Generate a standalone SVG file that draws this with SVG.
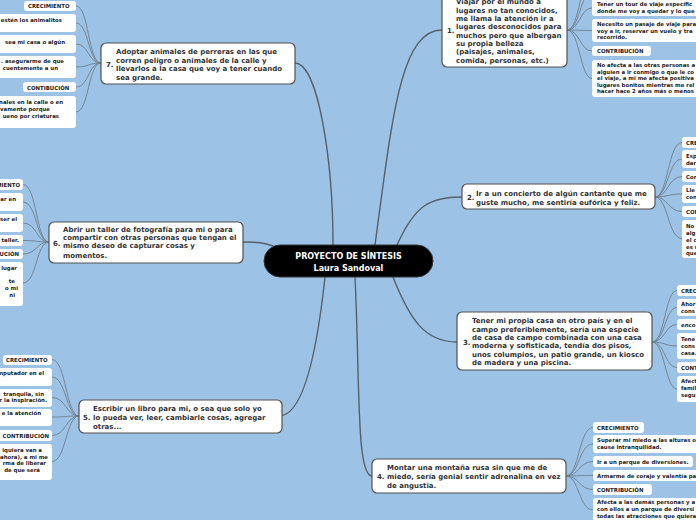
<svg xmlns="http://www.w3.org/2000/svg" width="696" height="520" viewBox="0 0 696 520">
<style>
.bg{fill:#9cc3e6}
.topic{fill:#fff;stroke:#505050;stroke-width:1.2}
.leaf{fill:#fff}
.tt{font-family:"DejaVu Sans",Verdana,sans-serif;font-weight:bold;font-size:7px;fill:#333}
.lt{font-family:"DejaVu Sans",Verdana,sans-serif;font-weight:bold;font-size:5.4px;fill:#222}
.end{text-anchor:end}
.main{fill:none;stroke:#56606a;stroke-width:1.4}
.sub{fill:none;stroke:#6f7f8f;stroke-width:0.9}
.ct{font-family:"DejaVu Sans",Verdana,sans-serif;font-weight:bold;font-size:8px;fill:#fff;text-anchor:middle}
</style>
<rect class="bg" x="0" y="0" width="696" height="520"/>
<g id="connectors">
<path class="main" d="M333,245 C333,160 318,63 295,63"/>
<path class="main" d="M375,245 C392,120 400,30 442,30"/>
<path class="main" d="M397,245 C415,205 430,197 462,197"/>
<path class="main" d="M393,277 C410,320 425,342 457,342"/>
<path class="main" d="M355,277 C360,380 356,476 372,476"/>
<path class="main" d="M325,277 C315,370 300,416 279,416"/>
<path class="main" d="M273,246 C262,242 255,242 243,242"/>
<path class="sub" d="M101,63 C88,63 89,6 76,6"/>
<path class="sub" d="M101,63 C88,63 89,23 76,23"/>
<path class="sub" d="M101,63 C88,63 89,44 76,44"/>
<path class="sub" d="M101,63 C88,63 89,67 76,67"/>
<path class="sub" d="M101,63 C88,63 89,87 76,87"/>
<path class="sub" d="M101,63 C88,63 89,112 76,112"/>
<path class="sub" d="M49,242 C36,242 37,184.5 23,184.5"/>
<path class="sub" d="M49,242 C36,242 37,202 23,202"/>
<path class="sub" d="M49,242 C36,242 37,223 23,223"/>
<path class="sub" d="M49,242 C36,242 37,240.5 23,240.5"/>
<path class="sub" d="M49,242 C36,242 37,254 23,254"/>
<path class="sub" d="M49,242 C36,242 37,283 23,283"/>
<path class="sub" d="M79,416 C66,416 66,359.5 52,359.5"/>
<path class="sub" d="M79,416 C66,416 66,377 52,377"/>
<path class="sub" d="M79,416 C66,416 66,397.5 52,397.5"/>
<path class="sub" d="M79,416 C66,416 66,417 52,417"/>
<path class="sub" d="M79,416 C66,416 66,435.5 52,435.5"/>
<path class="sub" d="M79,416 C66,416 66,461.5 52,461.5"/>
<path class="sub" d="M567,30 C580,30 580,-25 592,-25"/>
<path class="sub" d="M567,30 C580,30 580,-8 592,-8"/>
<path class="sub" d="M567,30 C580,30 580,8 592,8"/>
<path class="sub" d="M567,30 C580,30 580,30.5 592,30.5"/>
<path class="sub" d="M567,30 C580,30 580,51 592,51"/>
<path class="sub" d="M567,30 C580,30 580,78.5 592,78.5"/>
<path class="sub" d="M655,197 C668,197 668,142.5 682,142.5"/>
<path class="sub" d="M655,197 C668,197 668,159 682,159"/>
<path class="sub" d="M655,197 C668,197 668,176.5 682,176.5"/>
<path class="sub" d="M655,197 C668,197 668,194 682,194"/>
<path class="sub" d="M655,197 C668,197 668,211.5 682,211.5"/>
<path class="sub" d="M655,197 C668,197 668,238.5 682,238.5"/>
<path class="sub" d="M652,342 C665,342 665,290.5 677,290.5"/>
<path class="sub" d="M652,342 C665,342 665,307.5 677,307.5"/>
<path class="sub" d="M652,342 C665,342 665,324.5 677,324.5"/>
<path class="sub" d="M652,342 C665,342 665,346 677,346"/>
<path class="sub" d="M652,342 C665,342 665,367.5 677,367.5"/>
<path class="sub" d="M652,342 C665,342 665,389 677,389"/>
<path class="sub" d="M566,476 C579,476 579,427.5 593,427.5"/>
<path class="sub" d="M566,476 C579,476 579,444 593,444"/>
<path class="sub" d="M566,476 C579,476 579,461.5 593,461.5"/>
<path class="sub" d="M566,476 C579,476 579,475.5 593,475.5"/>
<path class="sub" d="M566,476 C579,476 579,489.5 593,489.5"/>
<path class="sub" d="M566,476 C579,476 579,510 593,510"/>
</g>
<g id="center">
<rect x="264" y="245" width="169" height="32" rx="16" fill="#000" stroke="#333" stroke-width="1"/>
<text class="ct" x="348.5" y="259">PROYECTO DE SÍNTESIS</text>
<text class="ct" x="348.5" y="270.5">Laura Sandoval</text>
</g>
<g id="node1">
<rect class="topic" x="442" y="-8" width="125" height="75" rx="5"/>
<text class="tt" x="447" y="32.5">1.</text>
<text class="tt" x="456" y="4">Viajar por el mundo a</text>
<text class="tt" x="456" y="12.5">lugares no tan conocidos,</text>
<text class="tt" x="456" y="21">me llama la atención ir a</text>
<text class="tt" x="456" y="29">lugares desconocidos para</text>
<text class="tt" x="456" y="37.5">muchos pero que albergan</text>
<text class="tt" x="456" y="46">su propia belleza</text>
<text class="tt" x="456" y="54">(paisajes, animales,</text>
<text class="tt" x="456" y="62.5">comida, personas, etc.)</text>
</g>
<g id="node1-leaves">
<rect class="leaf" x="592" y="-3" width="120" height="19" rx="3"/>
<text class="lt" x="597" y="6">Tener un tour de viaje específic</text>
<text class="lt" x="597" y="12.5">donde me voy a quedar y lo que</text>
<rect class="leaf" x="592" y="19" width="120" height="23" rx="3"/>
<text class="lt" x="597" y="26">Necesito un pasaje de viaje para</text>
<text class="lt" x="597" y="32.5">voy a ir, reservar un vuelo y tra</text>
<text class="lt" x="597" y="39">recorrido.</text>
<rect class="leaf" x="592" y="46" width="59" height="10" rx="3"/>
<text class="lt" x="597" y="53">CONTRIBUCIÓN</text>
<rect class="leaf" x="592" y="60" width="120" height="37" rx="3"/>
<text class="lt" x="597" y="67">No afecta a las otras personas a</text>
<text class="lt" x="597" y="73.5">alguien a ir conmigo o que le co</text>
<text class="lt" x="597" y="80">el viaje, a mi me afecta positiva</text>
<text class="lt" x="597" y="86.5">lugares bonitos mientras me rel</text>
<text class="lt" x="597" y="93">hacer hace 2 años más o menos</text>
</g>
<g id="node2">
<rect class="topic" x="462" y="184" width="193" height="25" rx="5"/>
<text class="tt" x="467" y="200">2.</text>
<text class="tt" x="476" y="195.5">Ir a un concierto de algún cantante que me</text>
<text class="tt" x="476" y="204.5">guste mucho, me sentiría eufórica y feliz.</text>
</g>
<g id="node2-leaves">
<rect class="leaf" x="682" y="137" width="40" height="11" rx="3"/>
<text class="lt" x="686" y="144.5">CRE</text>
<rect class="leaf" x="682" y="150" width="40" height="18" rx="3"/>
<text class="lt" x="686" y="157.5">Esp</text>
<text class="lt" x="686" y="164.5">dar</text>
<rect class="leaf" x="682" y="171" width="40" height="11" rx="3"/>
<text class="lt" x="686" y="178.5">Con</text>
<rect class="leaf" x="682" y="185" width="40" height="18" rx="3"/>
<text class="lt" x="686" y="192">Lle</text>
<text class="lt" x="686" y="199">con</text>
<rect class="leaf" x="682" y="206" width="40" height="11" rx="3"/>
<text class="lt" x="686" y="213.5">CON</text>
<rect class="leaf" x="682" y="220" width="40" height="38" rx="3"/>
<text class="lt" x="686" y="227.5">No</text>
<text class="lt" x="686" y="234.5">alg</text>
<text class="lt" x="686" y="241.5">el c</text>
<text class="lt" x="686" y="248.5">es u</text>
<text class="lt" x="686" y="255">que</text>
</g>
<g id="node3">
<rect class="topic" x="457" y="312" width="195" height="58" rx="5"/>
<text class="tt" x="463" y="344.5">3.</text>
<text class="tt" x="472" y="323">Tener mi propia casa en otro país y en el</text>
<text class="tt" x="472" y="331.5">campo preferiblemente, sería una especie</text>
<text class="tt" x="472" y="340">de casa de campo combinada con una casa</text>
<text class="tt" x="472" y="348">moderna y sofisticada, tendía dos pisos,</text>
<text class="tt" x="472" y="356.5">unos columpios, un patio grande, un kiosco</text>
<text class="tt" x="472" y="365">de madera y una piscina.</text>
</g>
<g id="node3-leaves">
<rect class="leaf" x="677" y="285" width="40" height="11" rx="3"/>
<text class="lt" x="681" y="292.5">CREC</text>
<rect class="leaf" x="677" y="299" width="40" height="17" rx="3"/>
<text class="lt" x="681" y="305.5">Ahor</text>
<text class="lt" x="681" y="312.5">cons</text>
<rect class="leaf" x="677" y="319" width="40" height="11" rx="3"/>
<text class="lt" x="681" y="326.5">enco</text>
<rect class="leaf" x="677" y="333" width="40" height="26" rx="3"/>
<text class="lt" x="681" y="340.5">Tene</text>
<text class="lt" x="681" y="347.5">cons</text>
<text class="lt" x="681" y="354.5">casa.</text>
<rect class="leaf" x="677" y="362" width="40" height="11" rx="3"/>
<text class="lt" x="681" y="369.5">CONT</text>
<rect class="leaf" x="677" y="376" width="40" height="26" rx="3"/>
<text class="lt" x="681" y="382.5">Afect</text>
<text class="lt" x="681" y="389.5">famil</text>
<text class="lt" x="681" y="396.5">segu</text>
</g>
<g id="node4">
<rect class="topic" x="372" y="459" width="194" height="34" rx="5"/>
<text class="tt" x="377" y="478.5">4.</text>
<text class="tt" x="387" y="469.5">Montar una montaña rusa sin que me de</text>
<text class="tt" x="387" y="478.5">miedo, sería genial sentir adrenalina en vez</text>
<text class="tt" x="387" y="487.5">de angustia.</text>
</g>
<g id="node4-leaves">
<rect class="leaf" x="593" y="422" width="51" height="11" rx="3"/>
<text class="lt" x="597" y="429.5">CRECIMIENTO</text>
<rect class="leaf" x="593" y="435" width="120" height="18" rx="3"/>
<text class="lt" x="597" y="442">Superar mi miedo a las alturas o</text>
<text class="lt" x="597" y="449">cause intranquilidad.</text>
<rect class="leaf" x="593" y="456" width="100" height="11" rx="3"/>
<text class="lt" x="597" y="463.5">Ir a un parque de diversiones.</text>
<rect class="leaf" x="593" y="470" width="120" height="11" rx="3"/>
<text class="lt" x="597" y="477.5">Armarme de coraje y valentía pa</text>
<rect class="leaf" x="593" y="484" width="59" height="11" rx="3"/>
<text class="lt" x="597" y="491.5">CONTRIBUCIÓN</text>
<rect class="leaf" x="593" y="498" width="120" height="30" rx="3"/>
<text class="lt" x="597" y="504">Afecta a las demás personas y a</text>
<text class="lt" x="597" y="511">con ellos a un parque de diversi</text>
<text class="lt" x="597" y="518">todas las atracciones que quiera</text>
</g>
<g id="node5">
<rect class="topic" x="79" y="400" width="203" height="33" rx="5"/>
<text class="tt" x="83" y="420">5.</text>
<text class="tt" x="93" y="410.5">Escribir un libro para mi, o sea que solo yo</text>
<text class="tt" x="93" y="420">lo pueda ver, leer, cambiarle cosas, agregar</text>
<text class="tt" x="93" y="428.5">otras...</text>
</g>
<g id="node5-leaves">
<rect class="leaf" x="3" y="355" width="49" height="10" rx="3"/>
<text class="lt" x="6" y="361.5">CRECIMIENTO</text>
<rect class="leaf" x="-40" y="368" width="92" height="18" rx="3"/>
<text class="lt end" x="44" y="375">mputador en el</text>
<rect class="leaf" x="-40" y="389" width="92" height="18" rx="3"/>
<text class="lt end" x="44" y="395.5">tranquila, sin</text>
<text class="lt end" x="47" y="402">r la inspiración.</text>
<rect class="leaf" x="-40" y="409" width="92" height="17" rx="3"/>
<text class="lt end" x="41" y="415">e la atención</text>
<rect class="leaf" x="-10" y="430" width="62" height="11" rx="3"/>
<text class="lt end" x="49" y="437.5">CONTRIBUCIÓN</text>
<rect class="leaf" x="-40" y="444" width="92" height="36" rx="3"/>
<text class="lt end" x="42" y="452">iquiera van a</text>
<text class="lt end" x="48" y="458.5">ahora), a mi me</text>
<text class="lt end" x="46" y="465">rma de liberar</text>
<text class="lt end" x="40" y="471.5">de que será</text>
</g>
<g id="node6">
<rect class="topic" x="49" y="222" width="194" height="41" rx="5"/>
<text class="tt" x="53" y="245.5">6.</text>
<text class="tt" x="63" y="231.5">Abrir un taller de fotografía para mi o para</text>
<text class="tt" x="63" y="240">compartir con otras personas que tengan el</text>
<text class="tt" x="63" y="248">mismo deseo de capturar cosas y</text>
<text class="tt" x="63" y="257.5">momentos.</text>
</g>
<g id="node6-leaves">
<rect class="leaf" x="-40" y="179" width="63" height="11" rx="3"/>
<text class="lt end" x="20" y="186.5">CRECIMIENTO</text>
<rect class="leaf" x="-40" y="193" width="63" height="18" rx="3"/>
<text class="lt end" x="16" y="201">ar en</text>
<rect class="leaf" x="-40" y="214" width="63" height="18" rx="3"/>
<text class="lt end" x="17" y="221">ser el</text>
<rect class="leaf" x="-40" y="235" width="63" height="11" rx="3"/>
<text class="lt end" x="19" y="242">taller.</text>
<rect class="leaf" x="-40" y="249" width="63" height="10" rx="3"/>
<text class="lt end" x="19" y="256">CONTRIBUCIÓN</text>
<rect class="leaf" x="-40" y="262" width="63" height="44" rx="3"/>
<text class="lt end" x="17" y="270">lugar</text>
<text class="lt end" x="15" y="283">te</text>
<text class="lt end" x="18" y="290">o mi</text>
<text class="lt end" x="15" y="296.5">ni</text>
</g>
<g id="node7">
<rect class="topic" x="101" y="43" width="194" height="41" rx="5"/>
<text class="tt" x="106" y="66.5">7.</text>
<text class="tt" x="116" y="54">Adoptar animales de perreras en las que</text>
<text class="tt" x="116" y="62.5">corren peligro o animales de la calle y</text>
<text class="tt" x="116" y="71">llevarlos a la casa que voy a tener cuando</text>
<text class="tt" x="116" y="79.5">sea grande.</text>
</g>
<g id="node7-leaves">
<rect class="leaf" x="24" y="1" width="52" height="10" rx="3"/>
<text class="lt" x="28" y="8">CRECIMIENTO</text>
<rect class="leaf" x="-40" y="14" width="116" height="18" rx="3"/>
<text class="lt end" x="62" y="22">estén los animalitos</text>
<rect class="leaf" x="-40" y="35" width="116" height="18" rx="3"/>
<text class="lt end" x="65" y="44">sea mi casa o algún</text>
<rect class="leaf" x="-40" y="56" width="116" height="22" rx="3"/>
<text class="lt end" x="64" y="63">. asegurarme de que</text>
<text class="lt end" x="58" y="70">cuentemente a un</text>
<rect class="leaf" x="23" y="82" width="53" height="10" rx="3"/>
<text class="lt" x="27" y="89.5">CONTIBUCIÓN</text>
<rect class="leaf" x="-40" y="96" width="116" height="32" rx="3"/>
<text class="lt end" x="63" y="103.5">nales en la calle o en</text>
<text class="lt end" x="50" y="110.5">vamente porque</text>
<text class="lt end" x="59" y="117.5">ueno por criaturas</text>
</g>
</svg>
